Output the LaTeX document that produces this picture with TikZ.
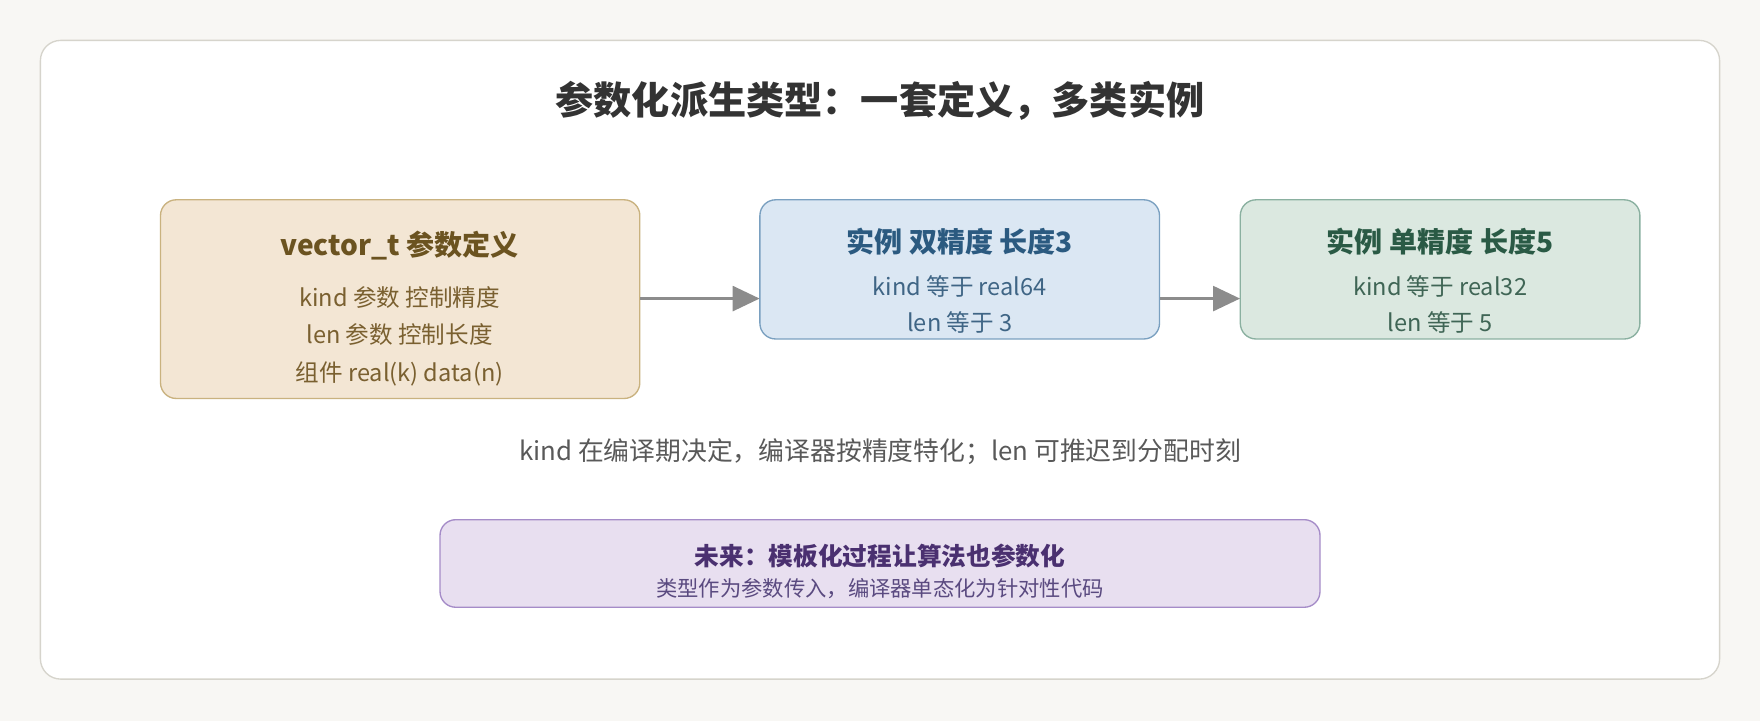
\documentclass[tikz,border=0pt]{standalone}
\usepackage{fontspec}
\setmainfont{Noto Sans CJK SC}
\usetikzlibrary{arrows.meta}
\definecolor{bg}{HTML}{F8F7F4}
\definecolor{cardline}{HTML}{D6D4CC}
\definecolor{tfill}{HTML}{F3E6D4}\definecolor{tline}{HTML}{C9B27F}\definecolor{ttext}{HTML}{6B5320}\definecolor{tsub}{HTML}{7A6030}
\definecolor{bfill}{HTML}{DBE7F3}\definecolor{bline}{HTML}{7AA0C0}\definecolor{btext}{HTML}{2B5A80}\definecolor{bsub}{HTML}{3F6585}
\definecolor{gfill}{HTML}{DBE8E0}\definecolor{gline}{HTML}{8AB0A0}\definecolor{gtext}{HTML}{2A5A45}\definecolor{gsub}{HTML}{3F6555}
\definecolor{pfill}{HTML}{E8DFF0}\definecolor{pline}{HTML}{A58CC8}\definecolor{ptext}{HTML}{4A3070}\definecolor{psub}{HTML}{5A4A80}
\begin{document}
\begin{tikzpicture}[x=1pt,y=-1pt,
  box/.style={draw,line width=1.2pt,rounded corners=14pt},
  arr/.style={draw=gray!90,line width=3pt,-{Triangle[length=24pt,width=22pt]}},
  ttl/.style={font=\bfseries\fontsize{25}{28}\selectfont,anchor=center},
  sub/.style={font=\fontsize{21}{24}\selectfont,anchor=center}]
\fill[bg] (0,0) rectangle (1568,642);
\useasboundingbox (0,0) rectangle (1568,642);
\draw[cardline,fill=white,line width=1.2pt,rounded corners=18pt] (36,36) rectangle (1532,605);
\node[font=\bfseries\fontsize{34}{38}\selectfont,text=black!80] (title) at (784,90) {参数化派生类型：一套定义，多类实例};
\draw[box,draw=tline,fill=tfill] (143,178) rectangle (570,355);
\node (b1) at (356.5,266.5) [minimum width=427pt,minimum height=177pt] {};
\node[ttl,text=ttext] at (356,219) {vector\_t 参数定义};
\node[sub,text=tsub] at (356,265) {kind 参数 控制精度};
\node[sub,text=tsub] at (356,298) {len 参数 控制长度};
\node[sub,text=tsub] at (356,333) {组件 real(k) data(n)};
\draw[box,draw=bline,fill=bfill] (677,178) rectangle (1033,302);
\node (b2) at (855,240) [minimum width=356pt,minimum height=124pt] {};
\node[ttl,text=btext] at (855,215) {实例 双精度 长度3};
\node[sub,text=bsub] at (855,255) {kind 等于 real64};
\node[sub,text=bsub] at (855,287) {len 等于 3};
\draw[box,draw=gline,fill=gfill] (1105,178) rectangle (1461,302);
\node (b3) at (1283,240) [minimum width=356pt,minimum height=124pt] {};
\node[ttl,text=gtext] at (1283,215) {实例 单精度 长度5};
\node[sub,text=gsub] at (1283,255) {kind 等于 real32};
\node[sub,text=gsub] at (1283,287) {len 等于 5};
\draw[arr] (b1.east|-0,266) -- (b2.west|-0,266);
\draw[arr] (b2.east|-0,266) -- (b3.west|-0,266);
\node[font=\fontsize{23}{26}\selectfont,text=black!65] (cap) at (784,402) {kind 在编译期决定，编译器按精度特化；len 可推迟到分配时刻};
\draw[box,draw=pline,fill=pfill] (392,463) rectangle (1176,541);
\node[font=\bfseries\fontsize{22}{25}\selectfont,text=ptext] (f1) at (784,495) {未来：模板化过程让算法也参数化};
\node[font=\fontsize{19}{22}\selectfont,text=psub] (f2) at (784,524) {类型作为参数传入，编译器单态化为针对性代码};
\end{tikzpicture}
\end{document}
